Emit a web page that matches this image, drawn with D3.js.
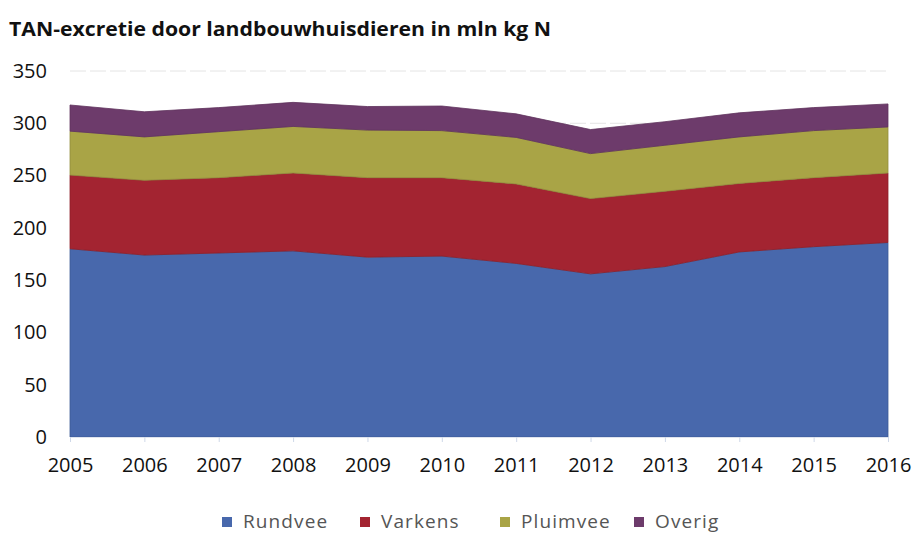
<!DOCTYPE html>
<html lang="nl">
<head>
<meta charset="UTF-8">
<title>TAN-excretie</title>
<script src="https://d3js.org/d3.v7.min.js"></script>
<style>
  body { margin: 0; background: #fff; }
  svg text { font-family: "Open Sans", "DejaVu Sans", sans-serif; }
</style>
</head>
<body>
<svg id="chart" width="917" height="538"></svg>
<script>
// jaren en waarden (mln kg N)
var years    = [2005, 2006, 2007, 2008, 2009, 2010, 2011, 2012, 2013, 2014, 2015, 2016];
var rundvee  = [180, 174, 176, 178, 172, 173, 166, 156, 163, 177, 182, 186];
var varkens  = [70.5, 71.5, 72, 74.5, 76, 75, 76, 72, 72, 65.5, 66, 66.5];
var pluimvee = [42, 41.5, 44, 44.5, 45.5, 45, 44.5, 43, 44, 44.5, 45, 44];
var overig   = [25, 24, 23, 23, 22.5, 23.5, 22.5, 23, 22.5, 23, 22, 22];
var seriesNames = ["Rundvee", "Varkens", "Pluimvee", "Overig"];
var yTicks = [0, 50, 100, 150, 200, 250, 300, 350];

var colors = ["#4868ac", "#a32431", "#a9a446", "#6d3b6b"];

var svg = d3.select("#chart");
var plotLeft = 70, plotRight = 888, plotTop = 71, plotBottom = 437;

var table = years.map(function (y, i) {
  return { year: y, Rundvee: rundvee[i], Varkens: varkens[i], Pluimvee: pluimvee[i], Overig: overig[i] };
});

var x = d3.scaleLinear().domain([2005, 2016]).range([plotLeft, plotRight]);
var y = d3.scaleLinear().domain([0, 350]).range([plotBottom, plotTop]);

// titel
svg.append("text")
  .attr("x", 9).attr("y", 36)
  .attr("font-size", 20).attr("font-weight", "bold")
  .attr("fill", "#111")
  .attr("textLength", 542).attr("lengthAdjust", "spacingAndGlyphs")
  .text("TAN-excretie door landbouwhuisdieren in mln kg N");

// gridline(s), alleen de bovenste is zichtbaar
svg.append("g").selectAll("line")
  .data(yTicks.filter(function (t) { return t > 0; }))
  .join("line")
  .attr("x1", plotLeft).attr("x2", plotRight)
  .attr("y1", function (d) { return y(d); }).attr("y2", function (d) { return y(d); })
  .attr("stroke", "#e4e4e4").attr("stroke-width", 1).attr("stroke-dasharray", "16,4");

var stack = d3.stack().keys(seriesNames);
var layers = stack(table);

var area = d3.area()
  .x(function (d) { return x(d.data.year); })
  .y0(function (d) { return y(d[0]); })
  .y1(function (d) { return y(d[1]); });

svg.append("g").selectAll("path")
  .data(layers)
  .join("path")
  .attr("d", area)
  .attr("fill", function (d, i) { return colors[i]; })
  .attr("stroke", function (d, i) { return d3.color(colors[i]).darker(0.4); })
  .attr("stroke-width", 0.8);

// y-as labels
svg.append("g")
  .attr("transform", "translate(" + (plotLeft - 23) + ",0)")
  .call(d3.axisLeft(y).tickValues(yTicks).tickSize(0).tickPadding(0))
  .call(function (g) { g.select(".domain").remove(); })
  .selectAll("text")
  .attr("font-size", 20).attr("fill", "#111")
  .attr("font-family", "Open Sans, sans-serif");

// x-as
var xAxis = svg.append("g")
  .attr("transform", "translate(0," + plotBottom + ")")
  .call(d3.axisBottom(x).tickValues(years).tickFormat(d3.format("d")).tickSize(5).tickPadding(16));
xAxis.select(".domain").attr("stroke", "#dfe4ee");
xAxis.selectAll(".tick line").attr("stroke", "#cfd8e8");
xAxis.selectAll("text")
  .attr("font-size", 20).attr("fill", "#111")
  .attr("font-family", "Open Sans, sans-serif");

// legenda
var legendX = [222, 360, 500, 634];
var legend = svg.append("g").selectAll("g")
  .data(seriesNames)
  .join("g")
  .attr("transform", function (d, i) { return "translate(" + legendX[i] + ",517)"; });
legend.append("rect")
  .attr("width", 10).attr("height", 10)
  .attr("fill", function (d, i) { return colors[i]; });
legend.append("text")
  .attr("x", 21).attr("y", 10.5)
  .attr("font-size", 19).attr("fill", "#555")
  .attr("letter-spacing", 1.1)
  .text(function (d) { return d; });
</script>
</body>
</html>
